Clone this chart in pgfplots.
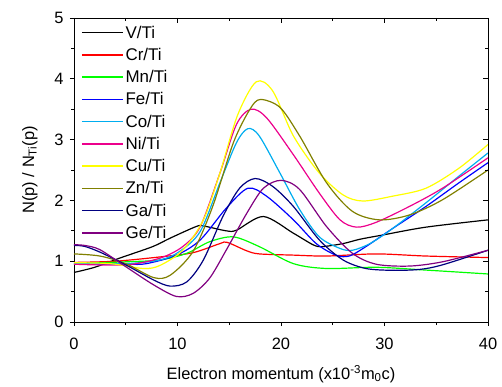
\documentclass[border=0pt]{standalone}
\usepackage{fontspec}
\setmainfont{Liberation Sans}
\usepackage{pgfplots}
\pgfplotsset{compat=1.18}

\definecolor{olivez}{RGB}{128,128,0}
\definecolor{navyg}{RGB}{0,0,128}
\definecolor{purpleg}{RGB}{128,0,128}
\definecolor{greenm}{RGB}{0,255,0}
\definecolor{yellowc}{RGB}{255,255,0}

\newcommand{\chartfont}{\fontsize{16.5}{18}\selectfont}
\newcommand{\legfont}{\fontsize{17}{18}\selectfont}

\begin{document}
\begin{tikzpicture}
\useasboundingbox (-74bp,-65bp) rectangle (428bp,322bp);
\begin{axis}[
  scale only axis,
  width=414bp, height=304bp,
  xmin=0, xmax=40, ymin=0, ymax=5,
  xtick={0,10,20,30,40}, ytick={0,1,2,3,4,5},
  minor x tick num=1, minor y tick num=1,
  xtick pos=left, ytick pos=left,
  tick align=outside,
  major tick length=4bp, minor tick length=3bp,
  tick style={black, line width=0.7pt},
  axis line style={black, line width=0.9pt},
  /pgf/number format/assume math mode=true,
  tick label style={font=\chartfont},
  xticklabel style={yshift=-9bp},
  yticklabel style={xshift=-3bp},
  label style={font=\chartfont},
  xlabel={Electron momentum (x10\textsuperscript{-3}m\textsubscript{0}c)},
  ylabel={N(p) / N\textsubscript{Ti}(p)},
  xlabel style={yshift=-8bp},
  ylabel style={yshift=10bp},
  every axis plot/.append style={line width=1.2pt, smooth, no marks},
  legend style={draw=none, fill=none, at={(0.014,0.985)}, anchor=north west,
    font=\legfont, row sep=4.5bp, inner sep=1bp},
  legend cell align=left,
  legend image code/.code={\draw[#1, line width=1.6pt] (0bp,0bp) -- (41bp,0bp);},
]
% V/Ti
\addplot[black] coordinates {(0,0.815) (2,0.9) (4.4,1.05) (7.6,1.24) (9.3,1.38) (11.8,1.57) (12.5,1.58) (14.7,1.50) (15.7,1.51) (18.3,1.735) (21.2,1.46) (23.1,1.27) (24,1.24) (26,1.29) (27.6,1.36) (29.8,1.43) (34,1.56) (40,1.68)};
\addlegendentry{V/Ti}
% Cr/Ti
\addplot[red] coordinates {(0,0.98) (4,1.0) (8.3,1.07) (11.5,1.14) (14.1,1.29) (14.8,1.31) (16.7,1.17) (17.9,1.12) (21.2,1.10) (24.4,1.085) (29.2,1.12) (34,1.085) (40,1.06)};
\addlegendentry{Cr/Ti}
% Mn/Ti
\addplot[greenm] coordinates {(0,0.96) (5,0.99) (8.3,1.02) (10.9,1.13) (13.1,1.32) (15.4,1.40) (17.9,1.24) (21.2,0.96) (24.4,0.88) (29.2,0.90) (34,0.854) (40,0.79)};
\addlegendentry{Mn/Ti}
% Fe/Ti
\addplot[blue] coordinates {(0,0.96) (5,0.95) (7,0.96) (9.9,1.10) (12.2,1.35) (14.7,1.87) (16.8,2.20) (18.6,2.07) (21.2,1.68) (23.4,1.29) (25.3,1.10) (26.6,1.085) (28.2,1.24) (30.8,1.54) (34,1.90) (37.2,2.29) (40,2.62)};
\addlegendentry{Fe/Ti}
% Co/Ti
\addplot[cyan] coordinates {(0,0.96) (5,0.96) (8.3,1.02) (10.2,1.16) (12.2,1.49) (14.1,2.29) (15.7,2.95) (16.8,3.18) (17.9,3.06) (19.9,2.45) (21.8,1.85) (23.7,1.40) (25.7,1.21) (26.9,1.18) (28.6,1.29) (30.8,1.54) (34,1.96) (37.2,2.40) (40,2.78)};
\addlegendentry{Co/Ti}
% Ni/Ti
\addplot[magenta] coordinates {(0,0.95) (5,0.94) (8.3,1.05) (10.5,1.24) (12.2,1.57) (14.1,2.45) (15.7,3.25) (17.1,3.50) (18.6,3.36) (21.2,2.75) (23.7,2.12) (25.7,1.68) (27.3,1.56) (29.2,1.64) (32.4,1.90) (35.6,2.20) (40,2.70)};
\addlegendentry{Ni/Ti}
% Cu/Ti
\addplot[yellowc] coordinates {(0,0.975) (3.5,0.96) (6.7,0.88) (8.3,0.93) (10.5,1.18) (12.5,1.68) (14.1,2.45) (15.8,3.40) (17.6,3.95) (19.2,3.80) (21.2,3.06) (23.7,2.45) (26,2.09) (27.9,1.99) (30.8,2.07) (34,2.20) (37.2,2.53) (40,2.92)};
\addlegendentry{Cu/Ti}
% Zn/Ti
\addplot[olivez] coordinates {(0,1.12) (2.5,1.085) (5,0.96) (7.7,0.73) (9.3,0.77) (11.5,1.16) (13.4,1.90) (15.4,2.95) (17,3.50) (18,3.66) (19.9,3.53) (21.8,3.06) (24.4,2.29) (26.9,1.82) (29.5,1.68) (32.4,1.76) (35.6,2.01) (40,2.50)};
\addlegendentry{Zn/Ti}
% Ga/Ti
\addplot[navyg] coordinates {(0,1.26) (1,1.245) (2.5,1.15) (5,0.94) (7.7,0.69) (9.3,0.59) (10.9,0.66) (12.5,1.02) (14.4,1.74) (16,2.20) (17.5,2.36) (19.2,2.23) (21.2,1.90) (23.7,1.35) (26,1.02) (28.2,0.88) (30.8,0.85) (33.4,0.865) (35.6,0.94) (40,1.18)};
\addlegendentry{Ga/Ti}
% Ge/Ti
\addplot[purpleg] coordinates {(0,1.27) (1,1.26) (2.5,1.19) (5,0.91) (7.7,0.61) (9.9,0.42) (11.5,0.47) (13.1,0.72) (14.7,1.18) (16.7,1.79) (18.3,2.20) (20,2.33) (21.8,2.18) (24.4,1.57) (26.9,1.13) (29.2,0.95) (32.4,0.92) (35.6,0.99) (40,1.18)};
\addlegendentry{Ge/Ti}
\end{axis}
% top and right frame with inward ticks
\begin{axis}[
  scale only axis,
  width=414bp, height=304bp,
  xmin=0, xmax=40, ymin=0, ymax=5,
  axis x line*=top, axis y line*=right,
  xtick={0,10,20,30,40}, ytick={0,1,2,3,4,5},
  minor x tick num=1, minor y tick num=1,
  tick align=inside,
  major tick length=5bp, minor tick length=3bp,
  tick style={black, line width=0.8pt},
  axis line style={black, line width=0.9pt, -},
  xticklabels={}, yticklabels={},
]
\end{axis}
\end{tikzpicture}
\end{document}
